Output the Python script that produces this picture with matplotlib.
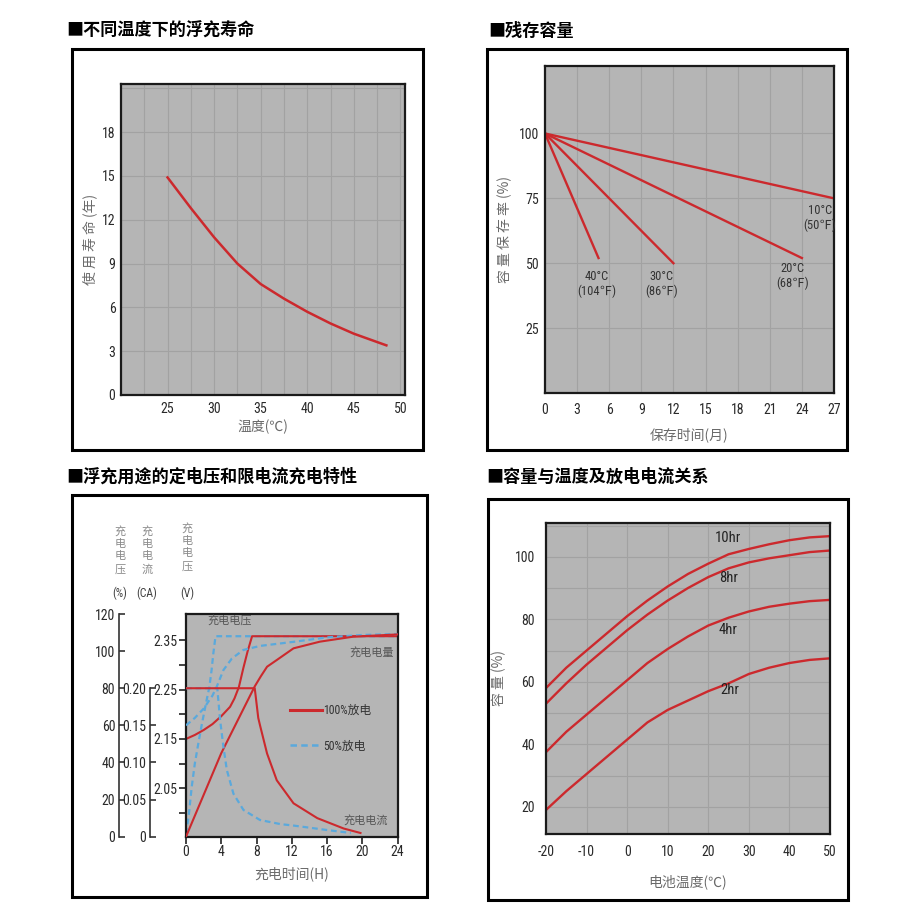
import numpy as np
import matplotlib
matplotlib.use("Agg")
import matplotlib.pyplot as plt
from matplotlib import font_manager
from matplotlib.patches import Rectangle
from matplotlib.lines import Line2D
from matplotlib.ticker import MultipleLocator

names = {f.name for f in font_manager.fontManager.ttflist}
narrow = [n for n in ["Liberation Sans Narrow", "Roboto Condensed", "Noto Sans Condensed",
                      "Open Sans Condensed", "DejaVu Sans Condensed"] if n in names]
NUM_FONT = narrow[0] if narrow else "Liberation Sans"
plt.rcParams["font.family"] = [NUM_FONT, "Noto Sans CJK SC", "DejaVu Sans"]
plt.rcParams["axes.unicode_minus"] = False
CJK = ["Noto Sans CJK SC", "DejaVu Sans"]
NUM = 10 if narrow else 9

# ---- data ---------------------------------------------------------------
# 不同温度下的浮充寿命
life_temp_c = [25, 27.5, 30, 32.5, 35, 37.5, 40, 42.5, 45, 48.5]
life_years = [14.9, 12.8, 10.8, 9.0, 7.6, 6.6, 5.7, 4.9, 4.2, 3.4]
life_xticks = [25, 30, 35, 40, 45, 50]
life_yticks = [0, 3, 6, 9, 12, 15, 18]

# 残存容量
store_labels = ["40°C\n(104℉)", "30°C\n(86℉)", "20°C\n(68℉)", "10°C\n(50℉)"]
store_end_month = [5, 12, 24, 27]
store_end_pct = [52, 50, 52, 75]
store_xticks = [0, 3, 6, 9, 12, 15, 18, 21, 24, 27]
store_yticks = [25, 50, 75, 100]

# 浮充用途的定电压和限电流充电特性
chg_xticks = [0, 4, 8, 12, 16, 20, 24]
volt_ticks = [2.05, 2.15, 2.25, 2.35]
volt_minor = [2.00, 2.10, 2.20, 2.30]
pct_ticks = [0, 20, 40, 60, 80, 100, 120]
ca_ticks = [0, 0.05, 0.10, 0.15, 0.20]
ca_labels = ["0", "0.05", "0.10", "0.15", "0.20"]

v100_h = [0, 1, 2, 3, 4, 5, 5.5, 6, 6.5, 7, 7.5, 24]
v100 = [2.150, 2.158, 2.168, 2.180, 2.196, 2.215, 2.232, 2.255, 2.293, 2.328, 2.358, 2.358]
q100_h = [0, 4, 7.8, 8.5, 9.2, 10.3, 12.2, 15.2, 19, 24]
q100 = [0, 45, 81, 86.5, 91.6, 95.2, 101.5, 105.1, 107.8, 109]
i100_h = [0, 7.8, 8.0, 8.2, 8.4, 9.2, 10.3, 12.2, 14.9, 17.9, 19.8]
i100 = [0.20, 0.20, 0.18, 0.16, 0.15, 0.112, 0.076, 0.045, 0.025, 0.011, 0.005]

v50_h = [0, 0.3, 0.65, 1.0, 1.4, 1.8, 2.3, 2.65, 2.9, 3.1, 3.35, 24]
v50 = [1.958, 1.993, 2.053, 2.100, 2.141, 2.180, 2.225, 2.255, 2.289, 2.323, 2.358, 2.358]
q50_h = [0, 1, 2, 3, 3.5, 4.25, 5.2, 6.5, 8.4, 12.2, 16, 20, 24]
q50 = [60, 64, 69, 76, 81, 89.8, 96, 100.6, 102.8, 105, 107.4, 108.7, 109.2]
i50_h = [0, 3.55, 3.7, 3.87, 4.25, 4.63, 5.38, 6.52, 8.4, 10.7, 12.2, 16, 18.7]
i50 = [0.20, 0.20, 0.18, 0.157, 0.121, 0.09, 0.058, 0.036, 0.0225, 0.017, 0.015, 0.009, 0.005]

# 容量与温度及放电电流关系
temp_c = [-20, -15, -10, -5, 0, 5, 10, 15, 20, 25, 30, 35, 40, 45, 50]
cap_10hr = [58, 64.5, 70, 75.5, 81, 86, 90.5, 94.5, 97.8, 100.8, 102.5, 104, 105.3, 106.2, 106.6]
cap_8hr = [53, 59.5, 65.5, 71, 76.5, 81.5, 86, 90, 93.5, 96.3, 98.2, 99.5, 100.5, 101.5, 102]
cap_4hr = [37.5, 44, 49.5, 55, 60.5, 66, 70.5, 74.5, 78, 80.5, 82.5, 84, 85, 85.8, 86.2]
cap_2hr = [19, 25, 30.5, 36, 41.5, 47, 51, 54, 57, 59.5, 62.5, 64.5, 66, 67, 67.5]
cap_xticks = [-20, -10, 0, 10, 20, 30, 40, 50]
cap_yticks = [20, 40, 60, 80, 100]

# ---- style --------------------------------------------------------------
RED = "#cc292d"
BLUE = "#5aa9dc"
FACE = "#b5b5b5"
GRID = "#a2a2a2"
LABEL = "#6a6a6a"
TICK = "#2a2a2a"

W = H = 910
fig = plt.figure(figsize=(9.1, 9.1), dpi=100)


def px_axes(x0, y0, x1, y1, **kw):
    return fig.add_axes([x0 / W, 1 - y1 / H, (x1 - x0) / W, (y1 - y0) / H], **kw)


def px_box(x0, y0, x1, y1):
    fig.add_artist(Rectangle((x0 / W, 1 - y1 / H), (x1 - x0) / W, (y1 - y0) / H,
                             transform=fig.transFigure, fill=False, lw=2.2, ec="black"))


def px_text(x, y, s, **kw):
    fig.text(x / W, 1 - y / H, s, **kw)


def frame(ax):
    ax.set_facecolor(FACE)
    for sp in ax.spines.values():
        sp.set_color("#1a1a1a")
        sp.set_linewidth(1.6)


# panel boxes and titles
px_box(71.7, 49.3, 422.7, 450)
px_box(486.7, 49.3, 846.7, 450)
px_box(71.7, 495, 426.7, 896.7)
px_box(488.3, 499.3, 847.7, 900)
title_kw = dict(fontsize=12.3, fontweight="bold", family=CJK, va="center", ha="left")
px_text(66, 31, "■不同温度下的浮充寿命", **title_kw)
px_text(488, 31, "■残存容量", **title_kw)
px_text(66, 477, "■浮充用途的定电压和限电流充电特性", **title_kw)
px_text(486, 477, "■容量与温度及放电电流关系", **title_kw)

# ---- 1: float life vs temperature ---------------------------------------
ax1 = px_axes(121, 84, 405, 395)
frame(ax1)
ax1.plot(life_temp_c, life_years, color=RED, lw=1.8)
ax1.set_xlim(20, 50.5)
ax1.set_ylim(0, 21.3)
ax1.set_xticks(life_xticks)
ax1.set_yticks(life_yticks)
ax1.xaxis.set_minor_locator(MultipleLocator(2.5))
ax1.yaxis.set_minor_locator(MultipleLocator(3))
ax1.grid(which="both", color=GRID, lw=0.8)
ax1.set_axisbelow(True)
ax1.tick_params(which="both", length=0, labelsize=NUM, labelcolor=TICK)
ax1.tick_params(axis="x", pad=5)
ax1.tick_params(axis="y", pad=4)
ax1.set_xlabel("温度(℃)", fontsize=10, color=LABEL, family=CJK, labelpad=3)
ax1.set_ylabel("使 用 寿 命 (年)", fontsize=10, color=LABEL, family=CJK, labelpad=3)

# ---- 2: residual capacity in storage -------------------------------------
ax2 = px_axes(545, 66, 834, 393)
frame(ax2)
for m, p in zip(store_end_month, store_end_pct):
    ax2.plot([0, m], [100, p], color=RED, lw=1.7)
ax2.set_xlim(0, 27)
ax2.set_ylim(0, 126)
ax2.set_xticks(store_xticks)
ax2.set_yticks(store_yticks)
ax2.grid(color=GRID, lw=0.8)
ax2.set_axisbelow(True)
ax2.tick_params(length=0, labelsize=NUM, labelcolor=TICK)
ax2.tick_params(axis="x", pad=7)
ax2.tick_params(axis="y", pad=4)
ax2.set_xlabel("保存时间(月)", fontsize=10, color=LABEL, family=CJK, labelpad=8)
ax2.set_ylabel("容 量 保 存 率 (%)", fontsize=10, color=LABEL, family=CJK, labelpad=5)
for (tx, ty), s in zip([(4.85, 42), (10.9, 42), (23.1, 45), (25.7, 67.6)], store_labels):
    ax2.text(tx, ty, s, ha="center", va="center", fontsize=9, color="#333", linespacing=1.15)

# ---- 3: charge characteristics -------------------------------------------
ax3 = px_axes(186, 614, 397.5, 836.7)
frame(ax3)
ax3.set_xlim(0, 24)
ax3.set_ylim(1.952, 2.403)
ax3.set_xticks(chg_xticks)
ax3.set_yticks(volt_ticks)
ax3.set_yticks(volt_minor, minor=True)
ax3.tick_params(which="both", direction="out", length=5, width=1.2, color="#222",
                labelsize=NUM, labelcolor=TICK, pad=1)
ax3.set_xlabel("充电时间(H)", fontsize=10, color=LABEL, family=CJK, labelpad=5)

ax3p = ax3.twinx()
ax3p.set_ylim(0, 120)
ax3p.axis("off")
ax3c = ax3.twinx()
ax3c.set_ylim(0, 0.30)
ax3c.axis("off")

ax3.plot(v50_h, v50, color=BLUE, lw=1.6, ls=(0, (2.6, 1.7)))
ax3.plot(v100_h, v100, color=RED, lw=1.5)
ax3p.plot(q50_h, q50, color=BLUE, lw=1.6, ls=(0, (2.6, 1.7)))
ax3p.plot(q100_h, q100, color=RED, lw=1.5)
ax3c.plot(i50_h, i50, color=BLUE, lw=1.6, ls=(0, (2.6, 1.7)))
ax3c.plot(i100_h, i100, color=RED, lw=1.5)

note_kw = dict(fontsize=8, color="#555", family=CJK, ha="center", va="center")
ax3.text(5.0, 2.39, "充电电压", **note_kw)
ax3p.text(21.1, 99.5, "充电电量", **note_kw)
ax3c.text(20.4, 0.022, "充电电流", **note_kw)

handles = [Line2D([], [], color=RED, lw=2.2, label="100%放电"),
           Line2D([], [], color=BLUE, lw=1.8, ls=(0, (2.6, 1.7)), label="50%放电")]
ax3c.legend(handles=handles, loc="upper left", bbox_to_anchor=(0.49, 0.595), frameon=False,
            fontsize=8.5, handlelength=2.7, handletextpad=0.15, labelspacing=1.9,
            borderpad=0, borderaxespad=0, labelcolor="#333")

# left-hand scales: % and CA
axp = px_axes(119.3, 614, 121, 836.7)
axc = px_axes(150, 614, 152, 836.7)
for a, lim, ticks, top in [(axp, 120, pct_ticks, 120), (axc, 0.30, ca_ticks, 0.20)]:
    a.patch.set_visible(False)
    for s in ["top", "right", "bottom"]:
        a.spines[s].set_visible(False)
    a.spines["left"].set_color("#333")
    a.spines["left"].set_linewidth(1.2)
    a.set_ylim(0, lim)
    a.spines["left"].set_bounds(0, top)
    a.set_xticks([])
    a.set_yticks(ticks)
    a.tick_params(axis="y", direction="in", length=4, width=1.2, color="#333",
                  labelsize=NUM, labelcolor=TICK, pad=3)
axc.set_yticklabels(ca_labels)

hdr_kw = dict(fontsize=8, color="#8a8a8a", family=CJK, ha="center", va="center", linespacing=1.3)
px_text(120, 550, "充\n电\n电\n压", **hdr_kw)
px_text(147, 550, "充\n电\n电\n流", **hdr_kw)
px_text(187, 547, "充\n电\n电\n压", **hdr_kw)
unit_kw = dict(fontsize=8.5, color="#444", ha="center", va="center")
px_text(120, 593, "(%)", **unit_kw)
px_text(147, 593, "(CA)", **unit_kw)
px_text(187, 593, "(V)", **unit_kw)

# ---- 4: capacity vs temperature and discharge rate ------------------------
ax4 = px_axes(546, 522.7, 830, 834)
frame(ax4)
for caps in [cap_10hr, cap_8hr, cap_4hr, cap_2hr]:
    ax4.plot(temp_c, caps, color=RED, lw=1.7)
ax4.set_xlim(-20, 50)
ax4.set_ylim(11.3, 110.9)
ax4.set_xticks(cap_xticks)
ax4.set_yticks(cap_yticks)
ax4.yaxis.set_minor_locator(MultipleLocator(10))
ax4.grid(which="both", color=GRID, lw=0.8)
ax4.set_axisbelow(True)
ax4.tick_params(which="both", length=0, labelsize=NUM, labelcolor=TICK, pad=8)
ax4.set_xlabel("电池温度(℃)", fontsize=10, color=LABEL, family=CJK, labelpad=11)
ax4.set_ylabel("容 量 (%)", fontsize=10, color=LABEL, family=CJK, labelpad=6)
for (tx, ty), s in zip([(24.9, 105.9), (24.9, 93.1), (24.9, 76.5), (25.3, 57.3)],
                       ["10hr", "8hr", "4hr", "2hr"]):
    ax4.text(tx, ty, s, ha="center", va="center", fontsize=10.5, color="#222")

fig.savefig("out.png", dpi=100)
